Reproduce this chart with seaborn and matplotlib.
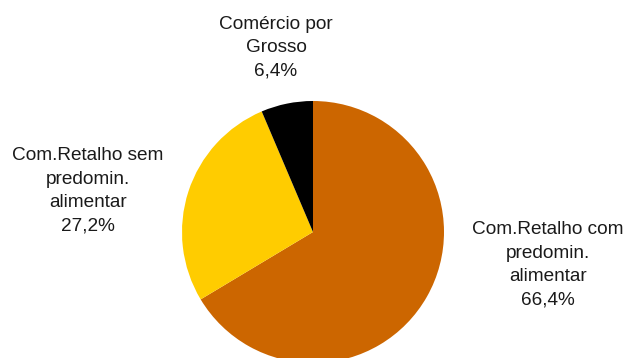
import matplotlib
matplotlib.use("Agg")
import matplotlib.pyplot as plt
import seaborn as sns

# Data
categories = ["Com.Retalho com\npredomin.\nalimentar",
              "Com.Retalho sem\npredomin.\nalimentar",
              "Comércio por\nGrosso"]
shares = [66.4, 27.2, 6.4]
colors = ["#CC6600", "#FFCC00", "#000000"]

sns.set_theme(style="white")
plt.rcParams['font.family'] = ['Liberation Sans', 'DejaVu Sans']

W, H = 626, 358
fig = plt.figure(figsize=(W / 100, H / 100), dpi=100)
ax = fig.add_axes([0, 0, 1, 1])

# pie centre (313, 232) px, radius 131 px
cx, cy, r = 313, 232, 131
ax.pie(shares, colors=colors, startangle=90, counterclock=False,
       radius=1, wedgeprops=dict(linewidth=0))
ax.set_aspect('auto')
ax.set_xlim(-cx / r, (W - cx) / r)
ax.set_ylim(-(H - cy) / r, cy / r)
ax.axis('off')

# label placement (pixel centres)
label_pos = [(548, 265), (88, 191), (276, 48)]
for cat, val, (px, py) in zip(categories, shares, label_pos):
    txt = cat + "\n" + f"{val:.1f}".replace(".", ",") + "%"
    fig.text(px / W, 1 - py / H, txt, ha='center', va='center',
             fontsize=13.7, color='#1a1a1a', linespacing=1.5)

fig.savefig("out.png", dpi=100, facecolor='white')
